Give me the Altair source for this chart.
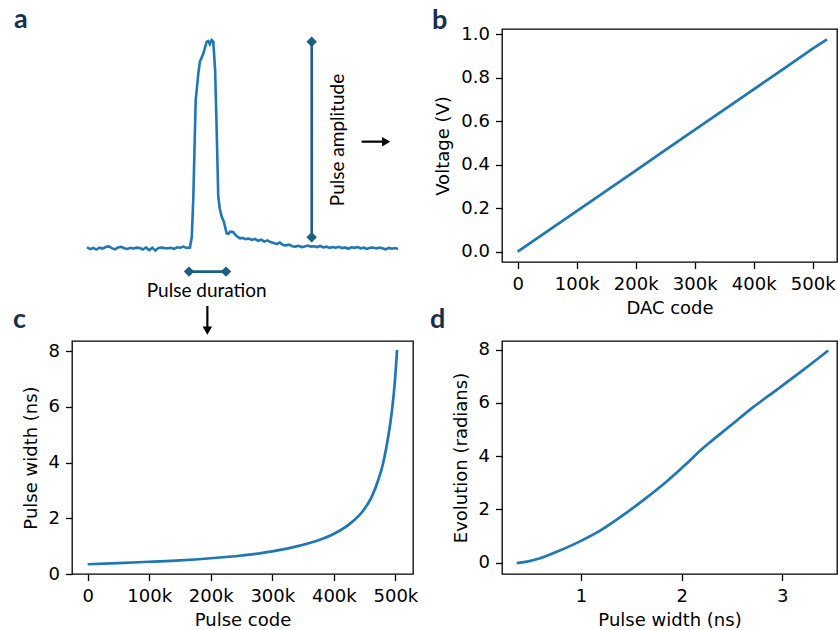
import altair as alt
import pandas as pd

# ---------------- data ----------------
# panel a: schematic pulse trace (arbitrary time units, normalised amplitude)
pulse_t = [0, 1, 2, 3, 4, 5, 6, 7, 8, 9, 10, 11, 12, 13, 14, 15, 16, 17, 18, 19,
           20, 21, 22, 23, 24, 25, 26, 27, 28, 29, 30, 31, 32, 33.1,
           33.7, 34.2, 34.95, 35.8, 36.3, 37.4, 38.5, 39.0, 39.5, 40.1, 40.6, 41.2,
           41.7, 42.2, 42.7, 43.3, 44.0, 44.9, 45.5, 46.0, 47.0, 48.0, 49.2,
           50, 51, 52, 53, 54, 55, 56, 57, 58, 59, 60, 61, 62, 63, 64, 65, 66, 67,
           68, 69, 70, 71, 72, 73, 74, 75, 76, 77, 78, 79, 80, 81, 82, 83, 84, 85,
           86, 87, 88, 89, 90, 91, 92, 93, 94, 95, 96, 97, 98, 99, 100]
pulse_amp = [0.005, -0.004, 0.002, -0.006, 0.003, -0.002, 0.006, 0.009, 0.001, -0.005,
             0.004, 0.007, 0.000, -0.003, 0.002, -0.001, 0.003, 0.001, -0.006, 0.004,
             -0.009, 0.003, -0.011, 0.002, 0.004, 0.001, 0.000, 0.002, -0.003, 0.005,
             0.003, 0.008, 0.002, 0.004,
             0.055, 0.25, 0.71, 0.84, 0.895, 0.935, 0.992, 0.995, 0.98, 1.0, 0.992, 0.856,
             0.568, 0.25, 0.19, 0.152, 0.128, 0.072, 0.07, 0.08, 0.078, 0.06, 0.048,
             0.05, 0.044, 0.047, 0.040, 0.045, 0.036, 0.041, 0.032, 0.038, 0.030, 0.026,
             0.020, 0.028, 0.016, 0.014, 0.018, 0.010, 0.008, 0.012, 0.006, 0.009, 0.013,
             0.008, 0.010, 0.006, 0.011, 0.004, 0.008, 0.002, 0.006, 0.003, 0.007, 0.001,
             0.004, -0.002, 0.005, 0.002, 0.006, 0.000, 0.003, -0.003, 0.002, 0.004,
             -0.001, 0.003, 0.000, -0.005, 0.002, -0.002, 0.001, -0.003]

amp_bar_t = 72.25
amp_bar_lo, amp_bar_hi = 0.053, 0.992
dur_bar_t1, dur_bar_t2 = 32.8, 44.7
dur_bar_a = -0.112

# panel b: DAC code vs voltage
dac_code = [0, 50000, 100000, 150000, 200000, 250000, 300000, 350000, 400000,
            450000, 500000, 524287]
voltage = [0.0, 0.093, 0.187, 0.280, 0.373, 0.467, 0.560, 0.654, 0.747, 0.840,
           0.934, 0.977]

# panel c: pulse code vs pulse width (ns)
pulse_code = [0, 50000, 100000, 150000, 200000, 250000, 300000, 344700, 377200,
              398800, 425800, 447500, 461100, 471900, 479900, 485400, 490800,
              495100, 498900, 502700]
pulse_width = [0.35, 0.39, 0.44, 0.49, 0.565, 0.665, 0.81, 1.02, 1.23, 1.43, 1.80,
               2.27, 2.75, 3.36, 3.96, 4.56, 5.28, 6.0, 6.85, 8.05]

# panel d: pulse width (ns) vs evolution (radians)
width_ns = [0.361, 0.45, 0.593, 0.759, 0.99, 1.19, 1.387, 1.619, 1.851, 2.05, 2.182,
            2.281, 2.48, 2.71, 2.943, 3.208, 3.456]
evolution = [-0.02, 0.03, 0.165, 0.41, 0.80, 1.2, 1.7, 2.35, 3.05, 3.72, 4.2,
             4.52, 5.13, 5.84, 6.49, 7.24, 7.97]

# ---------------- styles ----------------
BLUE = "#1f77b4"
TEAL = "#1b5f85"
NAVY = "#182f4c"
AXF = "DejaVu Sans"
ANN = "Lato"
KFMT = "datum.value == 0 ? '0' : format(datum.value / 1000, 'd') + 'k'"


def panel_label(letter, px, py):
    return alt.Chart(pd.DataFrame({"s": [letter]})).mark_text(
        font=ANN, fontSize=27, fontWeight="bold", color=NAVY,
        align="left", baseline="alphabetic"
    ).encode(text="s:N", x=alt.value(px), y=alt.value(py))


# ---------------- panel a ----------------
xs_a = alt.Scale(domain=[-4.82, 104.82], nice=False, zero=False)
ys_a = alt.Scale(domain=[-0.0658, 1.0528], nice=False, zero=False)

trace = alt.Chart(pd.DataFrame({"t": pulse_t, "amp": pulse_amp})).mark_line(
    color=BLUE, strokeWidth=2.6
).encode(
    x=alt.X("t:Q", scale=xs_a, axis=None),
    y=alt.Y("amp:Q", scale=ys_a, axis=None),
)

amp_df = pd.DataFrame({"t": [amp_bar_t], "lo": [amp_bar_lo], "hi": [amp_bar_hi]})
amp_rule = alt.Chart(amp_df).mark_rule(color=TEAL, strokeWidth=2.6).encode(
    x=alt.X("t:Q", scale=xs_a, axis=None),
    y=alt.Y("lo:Q", scale=ys_a, axis=None), y2="hi:Q")
amp_pts_df = pd.DataFrame({"t": [amp_bar_t, amp_bar_t], "a": [amp_bar_lo, amp_bar_hi]})
amp_pts = alt.Chart(amp_pts_df).mark_point(
    shape="diamond", filled=True, size=110, color=TEAL, opacity=1
).encode(x=alt.X("t:Q", scale=xs_a, axis=None), y=alt.Y("a:Q", scale=ys_a, axis=None))

dur_df = pd.DataFrame({"t1": [dur_bar_t1], "t2": [dur_bar_t2], "a": [dur_bar_a]})
dur_rule = alt.Chart(dur_df).mark_rule(color=TEAL, strokeWidth=2.6).encode(
    x=alt.X("t1:Q", scale=xs_a, axis=None), x2="t2:Q",
    y=alt.Y("a:Q", scale=ys_a, axis=None))
dur_pts_df = pd.DataFrame({"t": [dur_bar_t1, dur_bar_t2], "a": [dur_bar_a, dur_bar_a]})
dur_pts = alt.Chart(dur_pts_df).mark_point(
    shape="diamond", filled=True, size=110, color=TEAL, opacity=1
).encode(x=alt.X("t:Q", scale=xs_a, axis=None), y=alt.Y("a:Q", scale=ys_a, axis=None))

txt_amp = alt.Chart(pd.DataFrame({"t": [80.7], "a": [0.52], "s": ["Pulse amplitude"]})).mark_text(
    font=ANN, fontSize=19, angle=270, color="black", align="center", baseline="middle"
).encode(x=alt.X("t:Q", scale=xs_a, axis=None), y=alt.Y("a:Q", scale=ys_a, axis=None), text="s:N")
txt_dur = alt.Chart(pd.DataFrame({"t": [38.5], "a": [-0.205], "s": ["Pulse duration"]})).mark_text(
    font=ANN, fontSize=19, color="black", align="center", baseline="middle"
).encode(x=alt.X("t:Q", scale=xs_a, axis=None), y=alt.Y("a:Q", scale=ys_a, axis=None), text="s:N")

arr_r = alt.Chart(pd.DataFrame({"t1": [88.3], "t2": [95.0], "a": [0.512]})).mark_rule(
    color="black", strokeWidth=2.2).encode(
    x=alt.X("t1:Q", scale=xs_a, axis=None), x2="t2:Q", y=alt.Y("a:Q", scale=ys_a, axis=None))
arr_r_head = alt.Chart(pd.DataFrame({"t": [96.2], "a": [0.512]})).mark_point(
    shape="triangle-right", filled=True, size=90, color="black", opacity=1).encode(
    x=alt.X("t:Q", scale=xs_a, axis=None), y=alt.Y("a:Q", scale=ys_a, axis=None))
arr_d = alt.Chart(pd.DataFrame({"t": [38.7], "a1": [-0.277], "a2": [-0.38]})).mark_rule(
    color="black", strokeWidth=2.2).encode(
    x=alt.X("t:Q", scale=xs_a, axis=None), y=alt.Y("a1:Q", scale=ys_a, axis=None), y2="a2:Q")
arr_d_head = alt.Chart(pd.DataFrame({"t": [38.7], "a": [-0.395]})).mark_point(
    shape="triangle-down", filled=True, size=90, color="black", opacity=1).encode(
    x=alt.X("t:Q", scale=xs_a, axis=None), y=alt.Y("a:Q", scale=ys_a, axis=None))

anchor = alt.Chart(pd.DataFrame({"k": [0]})).mark_rect(opacity=0).encode(
    x=alt.value(-72), x2=alt.value(-71), y=alt.value(-29), y2=alt.value(-28))

panel_a = alt.layer(
    anchor, trace, amp_rule, amp_pts, dur_rule, dur_pts, txt_amp, txt_dur,
    arr_r, arr_r_head, arr_d, arr_d_head, panel_label("a", -58, -1)
).properties(width=341, height=233, view=alt.ViewBackground(strokeOpacity=0))

# ---------------- panel b ----------------
line_b = alt.Chart(pd.DataFrame({"code": dac_code, "v": voltage})).mark_line(
    color=BLUE, strokeWidth=2.7
).encode(
    x=alt.X("code:Q", title="DAC code",
            scale=alt.Scale(domain=[-26600, 541200], nice=False, zero=False),
            axis=alt.Axis(values=[0, 100000, 200000, 300000, 400000, 500000], labelExpr=KFMT)),
    y=alt.Y("v:Q", title="Voltage (V)",
            scale=alt.Scale(domain=[-0.0474, 1.0244], nice=False, zero=False),
            axis=alt.Axis(values=[0, 0.2, 0.4, 0.6, 0.8, 1.0], format=".1f")),
)
panel_b = alt.layer(line_b, panel_label("b", -70, 0)).properties(width=335, height=233)

# ---------------- panel c ----------------
line_c = alt.Chart(pd.DataFrame({"code": pulse_code, "w": pulse_width})).mark_line(
    color=BLUE, strokeWidth=2.7, interpolate="monotone"
).encode(
    x=alt.X("code:Q", title="Pulse code",
            scale=alt.Scale(domain=[-25400, 528600], nice=False, zero=False),
            axis=alt.Axis(values=[0, 100000, 200000, 300000, 400000, 500000], labelExpr=KFMT)),
    y=alt.Y("w:Q", title="Pulse width (ns)",
            scale=alt.Scale(domain=[0, 8.37], nice=False, zero=False),
            axis=alt.Axis(values=[0, 2, 4, 6, 8], format="d")),
)
panel_c = alt.layer(line_c, panel_label("c", -59, -13)).properties(width=341, height=233)

# ---------------- panel d ----------------
line_d = alt.Chart(pd.DataFrame({"w": width_ns, "e": evolution})).mark_line(
    color=BLUE, strokeWidth=2.7, interpolate="monotone"
).encode(
    x=alt.X("w:Q", title="Pulse width (ns)",
            scale=alt.Scale(domain=[0.215, 3.543], nice=False, zero=False),
            axis=alt.Axis(values=[1, 2, 3], format="d")),
    y=alt.Y("e:Q", title="Evolution (radians)",
            scale=alt.Scale(domain=[-0.426, 8.325], nice=False, zero=False),
            axis=alt.Axis(values=[0, 2, 4, 6, 8], format="d")),
)
panel_d = alt.layer(line_d, panel_label("d", -72, -13)).properties(width=335, height=233)

chart = alt.concat(
    panel_a, panel_b, panel_c, panel_d,
    columns=2, spacing={"row": 79, "column": 89}, bounds="flush"
).properties(padding=0, background="white").configure_view(
    stroke="black", strokeWidth=1.3
).configure_axis(
    labelFont=AXF, labelFontSize=18, labelColor="black",
    titleFont=AXF, titleFontSize=18, titleFontWeight="normal", titleColor="black",
    tickColor="black", tickSize=6.5, tickWidth=1.3, domain=False, grid=False,
    labelFlush=False, labelOverlap=False
).configure_axisX(labelPadding=7, titlePadding=6).configure_axisY(labelPadding=6, titlePadding=8)

chart.save("out.html", embed_options={"renderer": "svg", "actions": False})
